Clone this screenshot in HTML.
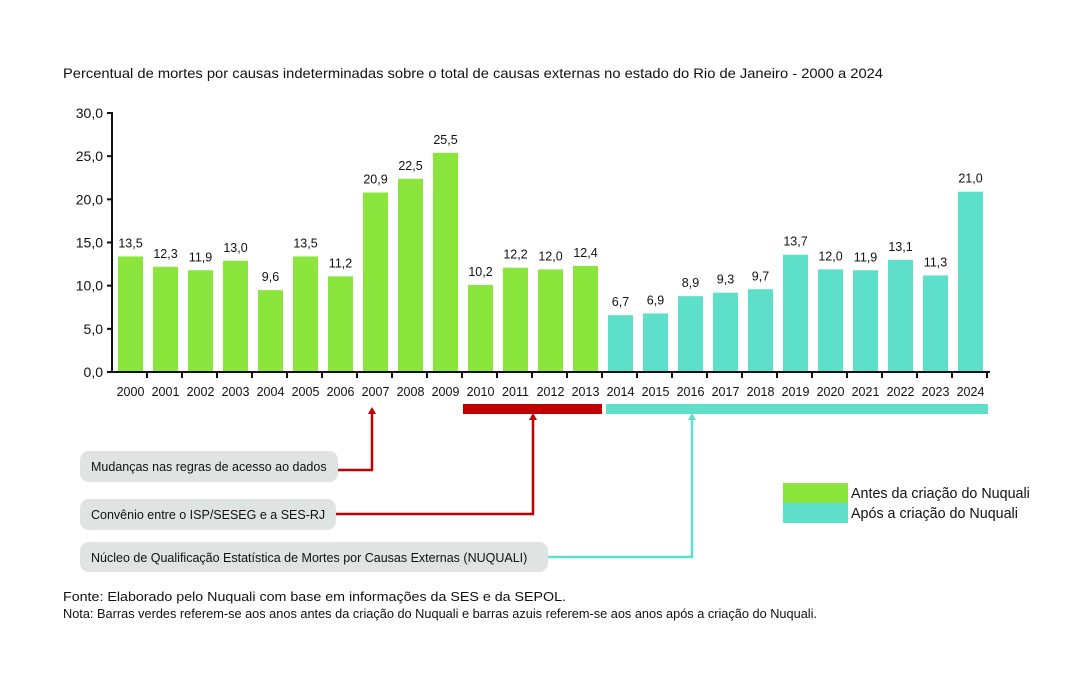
<!DOCTYPE html>
<html><head><meta charset="utf-8"><style>
body{margin:0;background:#fff;}
svg text{font-family:"Liberation Sans",sans-serif;fill:#111;}
</style></head><body>
<svg width="1080" height="681" viewBox="0 0 1080 681" xmlns="http://www.w3.org/2000/svg">
<text x="63" y="78" font-size="14" textLength="820" lengthAdjust="spacingAndGlyphs">Percentual de mortes por causas indeterminadas sobre o total de causas externas no estado do Rio de Janeiro - 2000 a 2024</text>
<g id="chart"></g>
<g stroke="#111" stroke-width="2" fill="none">
<line x1="112" y1="112" x2="112" y2="373"/>
<line x1="111" y1="372" x2="990" y2="372"/>
</g>
<g font-size="14" text-anchor="end" id="yl"></g>
<rect x="463" y="404" width="139" height="10" fill="#c00000"/>
<rect x="606" y="404" width="382" height="10" fill="#5ddfca"/>
<g fill="#dfe4e2">
<rect x="80" y="451" width="258" height="31" rx="9"/>
<rect x="80" y="499" width="256" height="31" rx="9"/>
<rect x="80" y="542" width="468" height="30" rx="9"/>
</g>
<g font-size="12.5">
<text x="91" y="471">Mudanças nas regras de acesso ao dados</text>
<text x="91" y="519">Convênio entre o ISP/SESEG e a SES-RJ</text>
<text x="91" y="562">Núcleo de Qualificação Estatística de Mortes por Causas Externas (NUQUALI)</text>
</g>
<g fill="none" stroke-width="2.5">
<polyline points="338,470 372,470 372,412" stroke="#c00000"/>
<polyline points="336,514 533,514 533,418" stroke="#c00000"/>
<polyline points="548,557 692,557 692,418" stroke="#5ddfca"/>
</g>
<polygon points="368,414 372,407 376,414" fill="#c00000"/>
<polygon points="529,420 533,413 537,420" fill="#c00000"/>
<polygon points="688,420 692,413 696,420" fill="#5ddfca"/>
<rect x="783" y="483" width="65" height="20" fill="#8ae63c"/>
<rect x="783" y="503" width="65" height="20" fill="#5ddfca"/>
<g font-size="14.3">
<text x="851" y="498">Antes da criação do Nuquali</text>
<text x="851" y="518">Após a criação do Nuquali</text>
</g>
<g font-size="12.7">
<text x="63" y="601" textLength="503" lengthAdjust="spacingAndGlyphs">Fonte: Elaborado pelo Nuquali com base em informações da SES e da SEPOL.</text>
<text x="63" y="618" textLength="754" lengthAdjust="spacingAndGlyphs">Nota: Barras verdes referem-se aos anos antes da criação do Nuquali e barras azuis referem-se aos anos após a criação do Nuquali.</text>
</g>
</svg>
<script>
var v=[13.5,12.3,11.9,13.0,9.6,13.5,11.2,20.9,22.5,25.5,10.2,12.2,12.0,12.4,6.7,6.9,8.9,9.3,9.7,13.7,12.0,11.9,13.1,11.3,21.0];
var ns="http://www.w3.org/2000/svg",g=document.getElementById("chart"),yl=document.getElementById("yl");
function el(t,a,txt){var e=document.createElementNS(ns,t);for(var k in a)e.setAttribute(k,a[k]);if(txt!=null)e.textContent=txt;return e;}
var y0=372,s=259/30;
for(var i=0;i<=6;i++){var y=y0-i*5*s;yl.appendChild(el("text",{x:103,y:y+5},(i*5).toFixed(1).replace(".",",")));
g.appendChild(el("line",{x1:107,y1:y,x2:112,y2:y,stroke:"#111","stroke-width":2}));}
for(var i=0;i<25;i++){var x=118+i*35,h=v[i]*s;
g.appendChild(el("rect",{x:x,y:y0-h+1,width:25,height:h-1,fill:i<14?"#8ae63c":"#5ddfca"}));
g.appendChild(el("text",{x:x+12.5,y:y0-h-8,"font-size":12.5,"text-anchor":"middle"},v[i].toFixed(1).replace(".",",")));
g.appendChild(el("text",{x:x+12.5,y:396,"font-size":12.5,"text-anchor":"middle"},2000+i));
g.appendChild(el("line",{x1:147+i*35,y1:372,x2:147+i*35,y2:378,stroke:"#111","stroke-width":2}));}
</script>
</body></html>
